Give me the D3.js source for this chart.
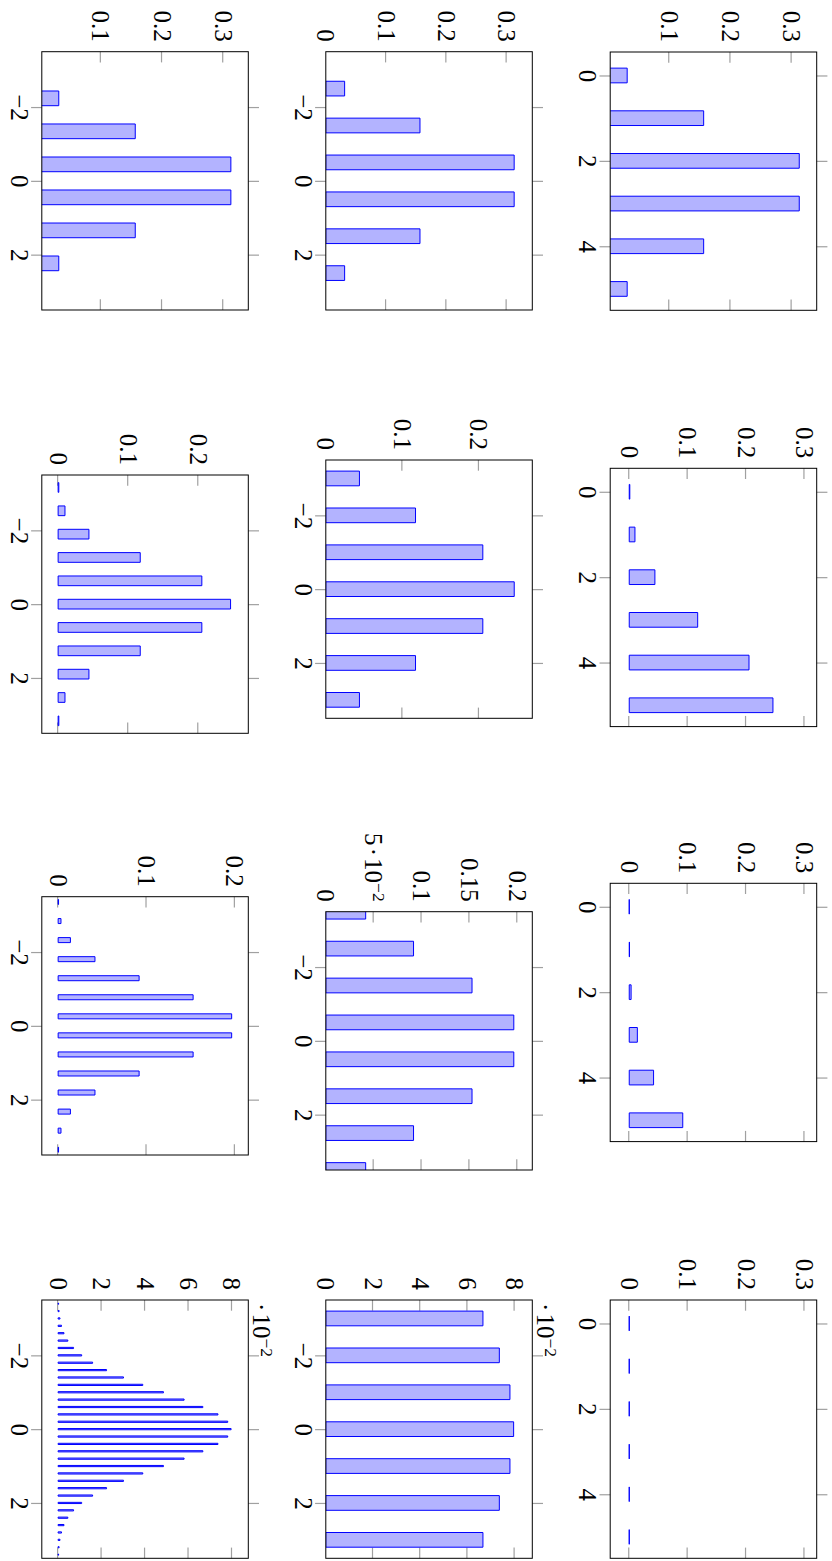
<!DOCTYPE html>
<html><head><meta charset="utf-8">
<script src="https://cdn.jsdelivr.net/npm/d3@7"></script>
<style>
html,body{margin:0;padding:0;background:#fff;}
svg{display:block;}
</style></head><body>
<svg id="chart" width="832" height="1561"></svg>
<script>
// ---------- data ----------
// categories (bar positions)
const rawX     = [0, 1, 2, 3, 4, 5];
const centX5   = [-2.5, -1.5, -0.5, 0.5, 1.5, 2.5];
const centX10  = [-5, -4, -3, -2, -1, 0, 1, 2, 3, 4, 5];
const centX15  = [-7.5, -6.5, -5.5, -4.5, -3.5, -2.5, -1.5, -0.5, 0.5, 1.5, 2.5, 3.5, 4.5, 5.5, 6.5, 7.5];
const centX100 = [-17, -16, -15, -14, -13, -12, -11, -10, -9, -8, -7, -6, -5, -4, -3, -2, -1, 0,
                  1, 2, 3, 4, 5, 6, 7, 8, 9, 10, 11, 12, 13, 14, 15, 16, 17];
const stdX5    = [-2.236, -1.342, -0.447, 0.447, 1.342, 2.236];
const stdX10   = [-3.162, -2.530, -1.897, -1.265, -0.632, 0, 0.632, 1.265, 1.897, 2.530, 3.162];
const stdX15   = [-3.873, -3.357, -2.840, -2.324, -1.807, -1.291, -0.775, -0.258,
                  0.258, 0.775, 1.291, 1.807, 2.324, 2.840, 3.357, 3.873];
const stdX100  = [-3.4, -3.2, -3.0, -2.8, -2.6, -2.4, -2.2, -2.0, -1.8, -1.6, -1.4, -1.2, -1.0, -0.8, -0.6, -0.4, -0.2, 0,
                  0.2, 0.4, 0.6, 0.8, 1.0, 1.2, 1.4, 1.6, 1.8, 2.0, 2.2, 2.4, 2.6, 2.8, 3.0, 3.2, 3.4];

// series values (probabilities)
const binom5   = [0.03125, 0.15625, 0.3125, 0.3125, 0.15625, 0.03125];
const rawY10   = [0.00098, 0.00977, 0.04395, 0.11719, 0.20508, 0.24609];
const rawY15   = [0.00003, 0.00046, 0.00320, 0.01389, 0.04166, 0.09164];
const rawY100  = [0, 0, 0, 0, 0, 0];
const binom10  = [0.00098, 0.00977, 0.04395, 0.11719, 0.20508, 0.24609, 0.20508, 0.11719, 0.04395, 0.00977, 0.00098];
const binom15  = [0.00003, 0.00046, 0.00320, 0.01389, 0.04166, 0.09164, 0.15274, 0.19638,
                  0.19638, 0.15274, 0.09164, 0.04166, 0.01389, 0.00320, 0.00046, 0.00003];
const binom100 = [0.00023, 0.00046, 0.00086, 0.00156, 0.00270, 0.00447, 0.00711, 0.01084, 0.01587,
                  0.02229, 0.03007, 0.03895, 0.04847, 0.05796, 0.06659, 0.07353, 0.07803, 0.07959,
                  0.07803, 0.07353, 0.06659, 0.05796, 0.04847, 0.03895, 0.03007, 0.02229, 0.01587,
                  0.01084, 0.00711, 0.00447, 0.00270, 0.00156, 0.00086, 0.00046, 0.00023];

// tick values and labels
const xTicksRaw = [0, 2, 4];
const xLabelsRaw = ["0", "2", "4"];
const xTicksCent = [-2, 0, 2];
const xLabelsCent = ["\u22122", "0", "2"];
const yTicksA = [0.1, 0.2, 0.3];          const yLabelsA = ["0.1", "0.2", "0.3"];
const yTicksB = [0, 0.1, 0.2, 0.3];       const yLabelsB = ["0", "0.1", "0.2", "0.3"];
const yTicksC = [0, 0.1, 0.2];            const yLabelsC = ["0", "0.1", "0.2"];
const yTicksD = [0, 0.05, 0.1, 0.15, 0.2]; const yLabelsD = ["0", "5\u200a\u00b7\u200a10^\u22122", "0.1", "0.15", "0.2"];
const yTicksE = [0, 0.02, 0.04, 0.06, 0.08]; const yLabelsE = ["0", "2", "4", "6", "8"];
const scaleLabel = "\u00b7\u200a10^\u22122";

// ---------- layout (original, unrotated coordinates) ----------
const BOXW = 258.3, BOXH = 206.5, TICK = 10.7;
const rowV0 = [15.3, 299.7, 583.7];
const FONT = "'Liberation Serif','Times New Roman',serif";
const FS = 25;

const xdRaw = [-0.55, 5.5], xdC = [-3.5, 3.5];
const plots = [
  {row:0, u0:52,    x:rawX,   y:binom5,  xd:xdRaw, yd:[0.0035,0.341],   xt:xTicksRaw, xl:xLabelsRaw, yt:yTicksA, yl:yLabelsA, bw:15.7},
  {row:0, u0:468.3, x:rawX,   y:rawY10,  xd:xdRaw, yd:[-0.0326,0.321],  xt:xTicksRaw, xl:xLabelsRaw, yt:yTicksB, yl:yLabelsB, bw:15.7},
  {row:0, u0:883.3, x:rawX,   y:rawY15,  xd:xdRaw, yd:[-0.0326,0.321],  xt:xTicksRaw, xl:xLabelsRaw, yt:yTicksB, yl:yLabelsB, bw:15.7},
  {row:0, u0:1300,  x:rawX,   y:rawY100, xd:xdRaw, yd:[-0.0326,0.321],  xt:xTicksRaw, xl:xLabelsRaw, yt:yTicksB, yl:yLabelsB, bw:15.7},
  {row:1, u0:51.7,  x:centX5,  y:binom5,  xd:xdC, yd:[0,0.3426],  xt:xTicksCent, xl:xLabelsCent, yt:yTicksB, yl:yLabelsB, bw:15.7},
  {row:1, u0:460,   x:centX10, y:binom10, xd:xdC, yd:[0,0.2697],  xt:xTicksCent, xl:xLabelsCent, yt:yTicksC, yl:yLabelsC, bw:15.7},
  {row:1, u0:911.7, x:centX15, y:binom15, xd:xdC, yd:[0,0.2157],  xt:xTicksCent, xl:xLabelsCent, yt:yTicksD, yl:yLabelsD, bw:15.7},
  {row:1, u0:1300,  x:centX100,y:binom100,xd:xdC, yd:[0,0.0875],  xt:xTicksCent, xl:xLabelsCent, yt:yTicksE, yl:yLabelsE, bw:15.7, scale:true},
  {row:2, u0:51.7,  x:stdX5,   y:binom5,  xd:xdC, yd:[0.0035,0.341],   xt:xTicksCent, xl:xLabelsCent, yt:yTicksA, yl:yLabelsA, bw:15.7},
  {row:2, u0:475,   x:stdX10,  y:binom10, xd:xdC, yd:[-0.0233,0.2714], xt:xTicksCent, xl:xLabelsCent, yt:yTicksC, yl:yLabelsC, bw:10.7},
  {row:2, u0:896.7, x:stdX15,  y:binom15, xd:xdC, yd:[-0.0185,0.2152], xt:xTicksCent, xl:xLabelsCent, yt:yTicksC, yl:yLabelsC, bw:6},
  {row:2, u0:1300,  x:stdX100, y:binom100,xd:xdC, yd:[-0.0075,0.0875], xt:xTicksCent, xl:xLabelsCent, yt:yTicksE, yl:yLabelsE, bw:2.2, scale:true}
];

// ---------- drawing ----------
const svg = d3.select("#chart");
svg.append("rect").attr("width", 832).attr("height", 1561).attr("fill", "#fff");
const root = svg.append("g").attr("transform", "translate(832,0) rotate(90)");

function setSup(textSel) {
  textSel.each(function() {
    const t = d3.select(this);
    const s = t.text();
    if (s.indexOf("^") < 0) return;
    const parts = s.split("^");
    t.text(null);
    t.append("tspan").text(parts[0]);
    t.append("tspan").attr("font-size", "0.7em").attr("dy", "-0.45em").text(parts[1]);
  });
}

function styleAxis(g) {
  g.select(".domain").remove();
  g.attr("font-family", FONT).attr("font-size", FS);
  g.selectAll("line").attr("stroke", "#a0a0a0").attr("stroke-width", 1.2);
  g.selectAll("text").attr("fill", "#000");
}

plots.forEach((p, i) => {
  const v0 = rowV0[p.row];
  const g = root.append("g").attr("transform", `translate(${p.u0},${v0})`);
  const xs = d3.scaleLinear().domain(p.xd).range([0, BOXW]);
  const ys = d3.scaleLinear().domain(p.yd).range([BOXH, 0]);
  const clipId = "clip" + i;
  g.append("clipPath").attr("id", clipId).append("rect").attr("width", BOXW).attr("height", BOXH);

  // x axis (ticks outside, bottom with labels)
  g.append("g").attr("transform", `translate(0,${BOXH})`)
    .call(d3.axisBottom(xs).tickValues(p.xt).tickFormat((d, j) => p.xl[j])
      .tickSizeInner(TICK).tickSizeOuter(0).tickPadding(2.6))
    .call(styleAxis);
  g.append("g")
    .call(d3.axisTop(xs).tickValues(p.xt).tickFormat("").tickSizeInner(TICK).tickSizeOuter(0))
    .call(styleAxis);

  // y axis (ticks inside)
  const ticksIn = p.yt.filter(t => ys(t) > 0.5 && ys(t) < BOXH - 0.5);
  const gy = g.append("g")
    .call(d3.axisLeft(ys).tickValues(p.yt).tickFormat((d, j) => p.yl[j])
      .tickSizeInner(-TICK).tickSizeOuter(0).tickPadding(10))
    .call(styleAxis);
  gy.selectAll(".tick line").filter(d => ticksIn.indexOf(d) < 0).remove();
  setSup(gy.selectAll("text"));
  g.append("g").attr("transform", `translate(${BOXW},0)`)
    .call(d3.axisRight(ys).tickValues(ticksIn).tickFormat("").tickSizeInner(-TICK).tickSizeOuter(0))
    .call(styleAxis);

  // bars
  const data = p.x.map((x, j) => ({x: x, y: p.y[j]}));
  const h = Math.max(p.bw / 2 - 0.5, 0.1);
  g.append("g").attr("clip-path", `url(#${clipId})`)
    .selectAll("path").data(data).join("path")
    .attr("d", d => {
      const c = xs(d.x), b = ys(0), t = ys(d.y);
      return `M${c - h},${b}H${c + h}V${t}H${c - h}Z`;
    })
    .attr("fill", "#b3b3ff").attr("stroke", "#0000ff").attr("stroke-width", 1);

  // frame
  g.append("rect").attr("width", BOXW).attr("height", BOXH)
    .attr("fill", "none").attr("stroke", "#000").attr("stroke-width", 1);

  // scale label
  if (p.scale) {
    const t = g.append("text").attr("x", 3).attr("y", -5)
      .attr("font-family", FONT).attr("font-size", FS).attr("fill", "#000")
      .text(scaleLabel);
    setSup(t);
  }
});
</script>
</body></html>
